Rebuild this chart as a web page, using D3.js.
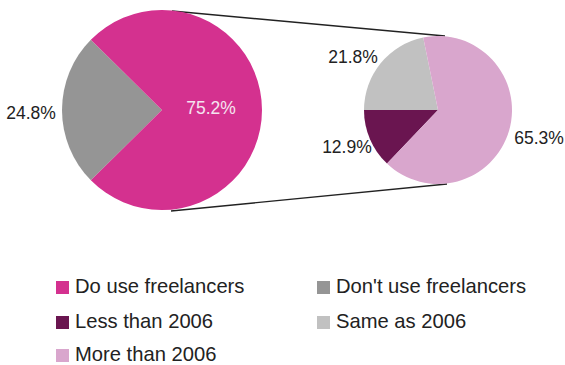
<!DOCTYPE html>
<html>
<head>
<meta charset="utf-8">
<script src="https://cdn.jsdelivr.net/npm/d3@7"></script>
<style>
  html, body { margin: 0; padding: 0; background: #fff; }
  svg { display: block; font-family: Arial, "Liberation Sans", sans-serif; }
</style>
</head>
<body>
<svg id="chart" width="565" height="365"></svg>
<script>
// ---- data ----
const mainCategories = ["Don't use freelancers", "Do use freelancers"];
const mainValues = [24.8, 75.2];
const subCategories = ["Less than 2006", "Same as 2006", "More than 2006"];
const subValues = [12.9, 21.8, 65.3];
const legendOrder = ["Do use freelancers", "Don't use freelancers", "Less than 2006", "Same as 2006", "More than 2006"];

// ---- styles ----
const colors = {
  "Do use freelancers": "#d4318f",
  "Don't use freelancers": "#959595",
  "Less than 2006": "#6a1550",
  "Same as 2006": "#c1c1c1",
  "More than 2006": "#d9a6cd"
};

const svg = d3.select("#chart");
const fmt = v => v.toFixed(1) + "%";

// ---- main pie ----
const big = { cx: 162, cy: 110, r: 100 };
const bigStart = 1.5 * Math.PI - (mainValues[0] / 100) * Math.PI;
const bigPie = d3.pie().sort(null).value(d => d.v)
  .startAngle(bigStart).endAngle(bigStart + 2 * Math.PI);
const bigData = bigPie(mainCategories.map((c, i) => ({ c, v: mainValues[i] })));
const bigArc = d3.arc().innerRadius(0).outerRadius(big.r);

// ---- sub pie ----
const small = { cx: 438, cy: 110, r: 74 };
const smallStart = 1.5 * Math.PI - (subValues[0] / 100) * 2 * Math.PI;
const smallPie = d3.pie().sort(null).value(d => d.v)
  .startAngle(smallStart).endAngle(smallStart + 2 * Math.PI);
const smallData = smallPie(subCategories.map((c, i) => ({ c, v: subValues[i] })));
const smallArc = d3.arc().innerRadius(0).outerRadius(small.r);

// ---- connector lines ----
const conn = svg.append("g").attr("stroke", "#222").attr("stroke-width", 1.4).attr("fill", "none");
conn.append("line").attr("x1", big.cx + 10).attr("y1", big.cy - big.r + 1)
  .attr("x2", small.cx + 7).attr("y2", small.cy - small.r);
conn.append("line").attr("x1", big.cx + 9).attr("y1", big.cy + big.r + 1)
  .attr("x2", small.cx + 9).attr("y2", small.cy + small.r);

const gBig = svg.append("g").attr("transform", `translate(${big.cx},${big.cy})`);
gBig.selectAll("path").data(bigData).join("path")
  .attr("d", bigArc).attr("fill", d => colors[d.data.c]);

const gSmall = svg.append("g").attr("transform", `translate(${small.cx},${small.cy})`);
gSmall.selectAll("path").data(smallData).join("path")
  .attr("d", smallArc).attr("fill", d => colors[d.data.c]);

// ---- labels ----
function polar(a, r) { return [Math.sin(a) * r, -Math.cos(a) * r]; }
const bigLabelR = [1.31, 0.5];
const bigLabelNudge = [[0, 2.5], [-1, -2.5]];
const bigLabelFill = ["#222", "#f4e4f0"];
gBig.selectAll("text").data(bigData).join("text")
  .attr("x", (d, i) => polar((d.startAngle + d.endAngle) / 2, big.r * bigLabelR[i])[0] + bigLabelNudge[i][0])
  .attr("y", (d, i) => polar((d.startAngle + d.endAngle) / 2, big.r * bigLabelR[i])[1] + bigLabelNudge[i][1])
  .attr("dy", "0.35em").attr("text-anchor", "middle")
  .attr("font-size", 17.5).attr("fill", (d, i) => bigLabelFill[i])
  .text(d => fmt(d.data.v));

const smallLabelR = [1.33, 1.36, 1.42];
const smallLabelNudge = [[-0.6, -1.8], [-7, 11], [0, -0.7]];
gSmall.selectAll("text").data(smallData).join("text")
  .attr("x", (d, i) => polar((d.startAngle + d.endAngle) / 2, small.r * smallLabelR[i])[0] + smallLabelNudge[i][0])
  .attr("y", (d, i) => polar((d.startAngle + d.endAngle) / 2, small.r * smallLabelR[i])[1] + smallLabelNudge[i][1])
  .attr("dy", "0.35em").attr("text-anchor", "middle")
  .attr("font-size", 17.5).attr("fill", "#222")
  .text(d => fmt(d.data.v));

// ---- legend ----
const legX = [56, 317], legTop = [281, 316, 349];
const leg = svg.append("g");
legendOrder.forEach((name, i) => {
  const x = legX[i % 2], y = legTop[Math.floor(i / 2)];
  leg.append("rect").attr("x", x).attr("y", y).attr("width", 13).attr("height", 13)
    .attr("fill", colors[name]);
  leg.append("text").attr("x", x + 19).attr("y", y + 12)
    .attr("font-size", 20.2).attr("fill", "#222").text(name);
});
</script>
</body>
</html>
